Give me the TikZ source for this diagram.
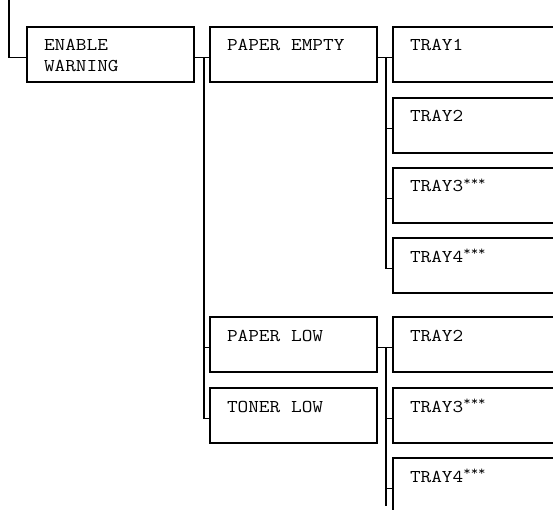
\documentclass[tikz,border=0pt]{standalone}
\usepackage{fontspec}
\setmonofont[FakeStretch=1.15]{Latin Modern Mono}
\usetikzlibrary{positioning,calc}

\newcommand{\menufont}{\ttfamily\fontsize{18}{21}\selectfont}
\newcommand{\wsp}{\hspace{0.604em}}
\newcommand{\stars}{\textsuperscript{***}}

\tikzset{
  menubox/.style={draw, line width=1.6pt, anchor=north west, outer sep=0pt,
    inner xsep=17pt, inner ysep=0pt, text width=133pt, align=left,
    text height=24pt, text depth=31pt, font=\menufont},
  traybox/.style={menubox, text width=160pt},
  treeline/.style={line width=1.6pt}
}

\begin{document}
\begin{tikzpicture}[x=1pt, y=-1pt]
    % Fix the page and cut off the open right edge
    \useasboundingbox (0,0) rectangle (553,510);
    \clip (0,0) rectangle (553,510);

    % Draw menu boxes
    \node[menubox] (ew) at (27,27) {ENABLE\\WARNING};
    \node[menubox] (pempty) at (210,27) {PAPER\wsp EMPTY};
    \node[menubox] (plow) at (210,317) {PAPER\wsp LOW};
    \node[menubox] (tlow) at (210,388) {TONER\wsp LOW};

    % Draw tray boxes
    \node[traybox] (ea) at (393,27) {TRAY1};
    \node[traybox] (eb) at (393,98) {TRAY2};
    \node[traybox] (ec) at (393,168) {TRAY3\stars};
    \node[traybox] (ed) at (393,238) {TRAY4\stars};
    \node[traybox] (lb) at (393,317) {TRAY2};
    \node[traybox] (lc) at (393,388) {TRAY3\stars};
    \node[traybox] (ld) at (393,458) {TRAY4\stars};

    % Draw root line
    \coordinate (root) at (9,-5);
    \draw[treeline] (root) |- ([yshift=-3pt]ew.west);

    % Draw first level connectors
    \coordinate (busa) at ([xshift=10pt,yshift=-3pt]ew.east);
    \draw[treeline] ([yshift=-3pt]ew.east) -- ([yshift=-3pt]pempty.west);
    \foreach \n in {plow,tlow}
      \draw[treeline] (busa) |- ([yshift=-3pt]\n.west);

    % Draw second level connectors
    \coordinate (busb) at ([xshift=9pt,yshift=-3pt]pempty.east);
    \draw[treeline] ([yshift=-3pt]pempty.east) -- ([yshift=-3pt]ea.west);
    \foreach \n in {eb,ec,ed}
      \draw[treeline] (busb) |- ([yshift=-3pt]\n.west);

    \coordinate (busc) at ([xshift=9pt,yshift=-3pt]plow.east);
    \draw[treeline] ([yshift=-3pt]plow.east) -- ([yshift=-3pt]lb.west);
    \foreach \n in {lc,ld}
      \draw[treeline] (busc) |- ([yshift=-3pt]\n.west);
    \coordinate (tail) at (0,506);
    \draw[treeline] (busc) -- (busc |- tail);
\end{tikzpicture}
\end{document}
